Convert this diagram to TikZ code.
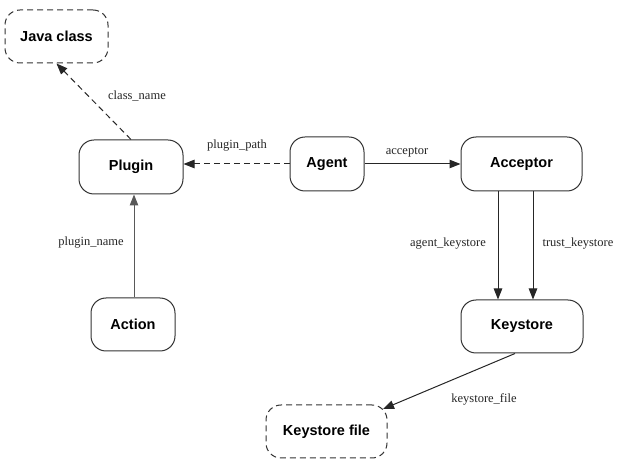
\documentclass[tikz,border=0pt]{standalone}
\usepackage{fontspec}
\setmainfont{Liberation Serif}
\setsansfont{Liberation Sans}
\usetikzlibrary{arrows.meta}
\begin{document}
\begin{tikzpicture}[x=1pt,y=-1pt,
  box/.style={draw=black!80, line width=1pt, rounded corners=15pt, font=\sffamily\bfseries\fontsize{14.5}{16}\selectfont, inner sep=0pt, text=black},
  dbox/.style={box, dashed, dash pattern=on 6pt off 4pt},
  conn/.style={draw=black!85, line width=1pt, -{Triangle[length=11pt,width=8.5pt]}},
  dconn/.style={conn, dash pattern=on 6pt off 4pt},
  lbl/.style={font=\fontsize{12.5}{14}\selectfont, inner sep=0pt, text=black!85}
]
\useasboundingbox (0,0) rectangle (619,470);
\node[dbox, minimum width=103pt, minimum height=53pt] (java) at (56.5,36.5) {Java class};
\node[box, minimum width=104pt, minimum height=54pt] (plugin) at (131,167) {Plugin};
\node[box, minimum width=74pt, minimum height=54pt] (agent) at (327,164) {Agent};
\node[box, minimum width=121pt, minimum height=54pt] (acceptor) at (521.5,164) {Acceptor};
\node[box, minimum width=122pt, minimum height=53pt] (keystore) at (522,326.5) {Keystore};
\node[dbox, minimum width=121pt, minimum height=53pt] (ksfile) at (326.5,431.5) {Keystore file};
\node[box, minimum width=84pt, minimum height=53pt] (action) at (133,324.5) {Action};

\draw[dconn] (plugin.north) -- (java.south);
\draw[dconn] (agent.west) -- (agent.west -| plugin.east);
\draw[conn] (agent.east) -- (agent.east -| acceptor.west);
\coordinate (a1) at ([xshift=-23.5pt]acceptor.south);
\coordinate (a2) at ([xshift=11.5pt]acceptor.south);
\draw[conn] (a1) -- (a1 |- keystore.north);
\draw[conn] (a2) -- (a2 |- keystore.north);
\coordinate (p1) at ([xshift=1pt]action.north);
\draw[conn, draw=black!65, fill=black!65] (p1) -- (p1 |- plugin.south);
\coordinate (k1) at ([xshift=-7pt]keystore.south);
\coordinate (k2) at (383,409);
\draw[conn] (k1) -- (k2);

\node[lbl] (l1) at (137,96) {class\_name};
\node[lbl] (l2) at (237,146) {plugin\_path};
\node[lbl] (l3) at (407,152) {acceptor};
\node[lbl] (l4) at (448,244) {agent\_keystore};
\node[lbl] (l5) at (578,244) {trust\_keystore};
\node[lbl] (l6) at (91,243) {plugin\_name};
\node[lbl] (l7) at (484,399) {keystore\_file};
\end{tikzpicture}
\end{document}
